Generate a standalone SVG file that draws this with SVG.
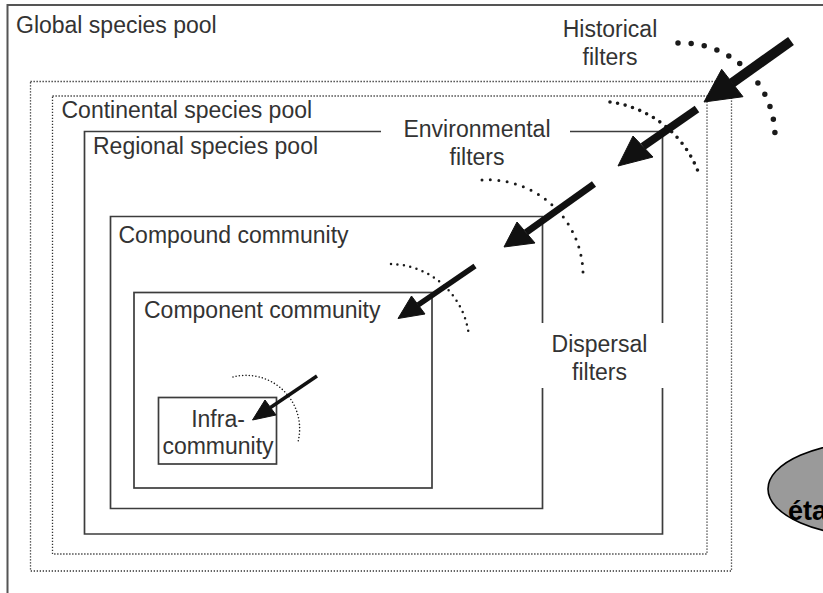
<svg xmlns="http://www.w3.org/2000/svg" width="823" height="593" viewBox="0 0 823 593">
  <style>
    .lbl { font-family: "Liberation Sans", Arial, sans-serif; font-size: 23px; fill: #333; }
    .mid { text-anchor: middle; }
    .box { fill: none; stroke: #3c3c3c; stroke-width: 1.7; }
    .dot { fill: none; stroke: #333; stroke-width: 1.3; stroke-dasharray: 1.3 1.7; }
    .arc { fill: none; stroke: #1a1a1a; stroke-linecap: round; }
    .shaft { stroke: #111; stroke-linecap: butt; }
    .head { fill: #111; stroke: #111; stroke-width: 1; stroke-linejoin: miter; }
  </style>
  <rect width="823" height="593" fill="#fff"/>

  <g id="global-pool">
    <rect x="7.5" y="5" width="900" height="700" fill="none" stroke="#555" stroke-width="2"/>
    <text class="lbl" x="16" y="33">Global species pool</text>
  </g>

  <g id="continental-pool">
    <rect class="dot" x="30.5" y="81.5" width="701" height="489.5"/>
    <rect class="dot" x="52.5" y="96" width="654.5" height="458"/>
    <text class="lbl" x="61.5" y="118">Continental species pool</text>
  </g>

  <g id="regional-pool">
    <path class="box" d="M381 131.5 H84.5 V534 H662.5 V388 M662.5 323 V131.5 H570"/>
    <text class="lbl" x="93" y="154">Regional species pool</text>
  </g>

  <g id="compound-community">
    <path class="box" d="M542.5 323 V216.5 H110.5 V508.5 H542.5 V388"/>
    <text class="lbl" x="118.5" y="243">Compound community</text>
  </g>

  <g id="component-community">
    <rect class="box" x="134" y="292.5" width="298" height="195.5"/>
    <text class="lbl" x="144" y="318">Component community</text>
  </g>

  <g id="infra-community">
    <rect class="box" x="158.5" y="397.5" width="118" height="66.5"/>
    <text class="lbl mid" x="218" y="427">Infra-</text>
    <text class="lbl mid" x="218" y="454">community</text>
  </g>

  <g id="historical-filters">
    <text class="lbl mid" x="610" y="37">Historical</text>
    <text class="lbl mid" x="610" y="65">filters</text>
    <path class="arc" d="M678 43 A94 94 0 0 1 775 136" stroke-width="5.5" stroke-dasharray="0 13.27"/>
  </g>

  <g id="environmental-filters">
    <text class="lbl mid" x="477" y="136.5">Environmental</text>
    <text class="lbl mid" x="477" y="164.5">filters</text>
    <path class="arc" d="M610 102 A110 110 0 0 1 700 177" stroke-width="3.6" stroke-dasharray="0 7.73"/>
  </g>

  <g id="dispersal-filters">
    <text class="lbl mid" x="599.5" y="351.5">Dispersal</text>
    <text class="lbl mid" x="599.5" y="380">filters</text>
    <path class="arc" d="M482 180 A95.4 95.4 0 0 1 583 272" stroke-width="3" stroke-dasharray="0 8.44"/>
    <path class="arc" d="M391 264 A80 80 0 0 1 469 337" stroke-width="2.5" stroke-dasharray="0 6.5"/>
    <path class="arc" d="M233 377 A53.5 53.5 0 0 1 298 442" stroke="#999" stroke-width="1.6" stroke-dasharray="0 3.3"/>
  </g>

  <g id="connectors">
    <line class="shaft" x1="791" y1="41" x2="732" y2="83" stroke-width="10"/>
    <polygon class="head" points="704,102 721.7,69.3 743,96.7"/>
    <line class="shaft" x1="697" y1="109" x2="643" y2="146.5" stroke-width="8"/>
    <polygon class="head" points="618,166 633,136 653,157"/>
    <line class="shaft" x1="594" y1="184" x2="526" y2="232.5" stroke-width="7"/>
    <polygon class="head" points="504,247 517,222 535,243"/>
    <line class="shaft" x1="475" y1="266" x2="418" y2="305" stroke-width="5.5"/>
    <polygon class="head" points="398,318.5 411.5,296 425,314"/>
    <line class="shaft" x1="317" y1="376" x2="270.5" y2="407.5" stroke-width="3.5"/>
    <polygon class="head" points="252.5,420 265,400 276,415"/>
  </g>

  <g id="etat">
    <ellipse cx="880" cy="489" rx="112" ry="48" fill="#9a9a9a" stroke="#000" stroke-width="1.6"/>
    <text x="788" y="520" font-family="'Liberation Sans', Arial, sans-serif" font-size="27" font-weight="bold" fill="#000">éta</text>
  </g>
</svg>
